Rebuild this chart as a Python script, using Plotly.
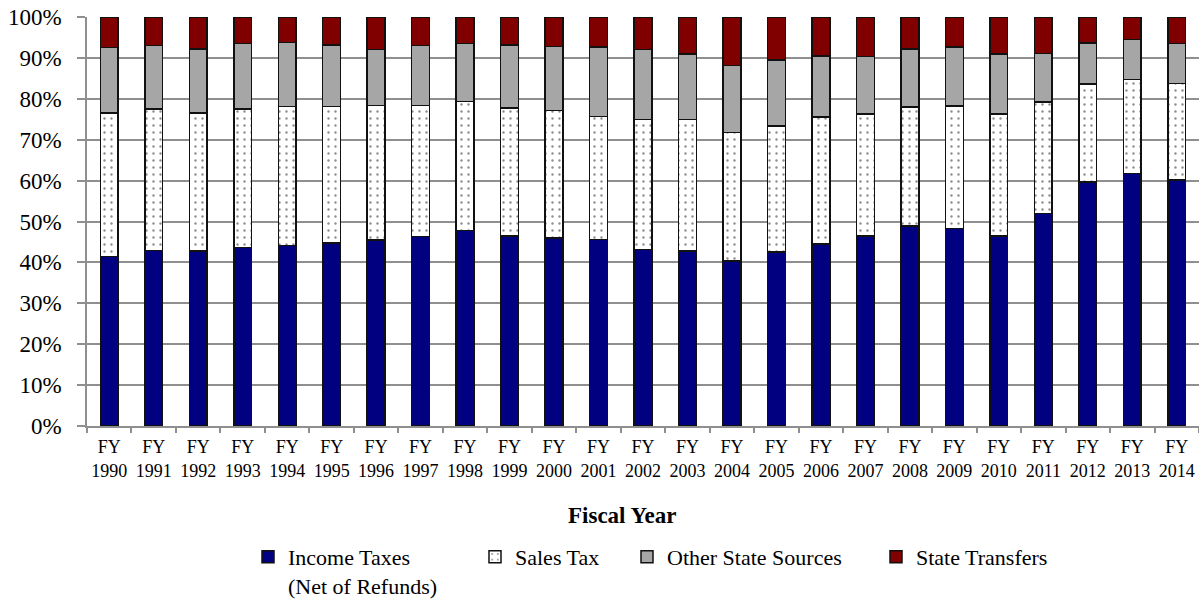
import plotly.graph_objects as go

# Fiscal years shown on the category axis
years = [str(y) for y in range(1990, 2015)]
year_labels = ["FY<br>" + y for y in years]

# Share of revenue by source, percent of total (each year sums to 100)
income_taxes = [41.4, 42.9, 42.8, 43.6, 44.1, 44.8, 45.5, 46.3, 47.8, 46.4, 46.0, 45.6, 43.2,
                42.8, 40.4, 42.5, 44.5, 46.5, 48.9, 48.3, 46.5, 51.9, 59.7, 61.7, 60.1]
sales_tax = [35.1, 34.6, 33.7, 33.9, 34.0, 33.3, 32.9, 32.1, 31.6, 31.3, 31.2, 30.1, 31.7,
             32.1, 31.4, 30.8, 31.1, 29.8, 29.1, 30.0, 29.8, 27.3, 23.9, 23.0, 23.6]
other_state = [16.1, 15.5, 15.7, 16.0, 15.7, 15.1, 13.7, 14.6, 14.1, 15.5, 15.6, 17.0, 17.2,
               16.1, 16.3, 16.2, 14.9, 14.1, 14.2, 14.4, 14.7, 11.9, 10.1, 9.8, 9.8]
state_transfers = [7.4, 7.0, 7.8, 6.5, 6.2, 6.8, 7.9, 7.0, 6.5, 6.8, 7.2, 7.3, 7.9,
                   9.0, 11.9, 10.5, 9.5, 9.6, 7.8, 7.3, 9.0, 8.9, 6.3, 5.5, 6.5]

series_names = ["Income Taxes<br>(Net of Refunds)", "Sales Tax",
                "Other State Sources", "State Transfers"]
x_title = "Fiscal Year"

FONT = "Liberation Serif"
outline = dict(color="#111111", width=1.5)

fig = go.Figure()
fig.add_trace(go.Bar(x=year_labels, y=income_taxes, name=series_names[0], legend="legend",
                     marker=dict(color="#000080", line=outline)))
fig.add_trace(go.Bar(x=year_labels, y=sales_tax, name=series_names[1], legend="legend2",
                     marker=dict(color="white", line=outline,
                                 pattern=dict(shape=".", size=7, solidity=0.09,
                                              fgcolor="#1a1a1a", bgcolor="white"))))
fig.add_trace(go.Bar(x=year_labels, y=other_state, name=series_names[2], legend="legend3",
                     marker=dict(color="#A6A6A6", line=outline)))
fig.add_trace(go.Bar(x=year_labels, y=state_transfers, name=series_names[3], legend="legend4",
                     marker=dict(color="#800000", line=outline)))


def legend_box(left_px):
    # one legend entry per box, placed along a shared row under the axis title
    return dict(
        orientation="h",
        xref="container",
        yref="container",
        x=left_px / 1199,
        xanchor="left",
        y=1 - 536 / 599,
        yanchor="top",
        valign="top",
        font=dict(family=FONT, size=22, color="black"),
        bgcolor="rgba(0,0,0,0)",
    )


fig.update_layout(
    barmode="stack",
    bargap=0.6,
    width=1199,
    height=599,
    margin=dict(l=87, r=0, t=17, b=173, autoexpand=False),
    paper_bgcolor="white",
    plot_bgcolor="white",
    font=dict(family=FONT, color="black", size=19),
    showlegend=True,
    legend=legend_box(248),
    legend2=legend_box(475),
    legend3=legend_box(627),
    legend4=legend_box(876),
    annotations=[
        dict(text="<b>" + x_title + "</b>", xref="paper", yref="paper",
             x=(622 - 87) / 1112, y=(426 - 515) / 409,
             xanchor="center", yanchor="middle", showarrow=False,
             font=dict(family=FONT, size=23, color="black")),
    ],
)

fig.update_xaxes(
    type="category",
    automargin=False,
    showline=True,
    linecolor="#8f8f8f",
    linewidth=1.5,
    ticks="outside",
    tickson="boundaries",
    ticklen=5,
    tickcolor="#8f8f8f",
    tickwidth=1.5,
    tickangle=0,
    ticklabelstandoff=4,
    tickfont=dict(family=FONT, size=18),
    showgrid=False,
)

fig.update_yaxes(
    range=[0, 100],
    dtick=10,
    ticksuffix="%",
    automargin=False,
    showline=True,
    linecolor="#8f8f8f",
    linewidth=1.5,
    ticks="outside",
    ticklen=8,
    tickcolor="#8f8f8f",
    tickwidth=1.5,
    ticklabelstandoff=11,
    showgrid=True,
    gridcolor="#8f8f8f",
    gridwidth=1.5,
    zeroline=False,
    tickfont=dict(family=FONT, size=23),
)

fig.write_html("out.html")
